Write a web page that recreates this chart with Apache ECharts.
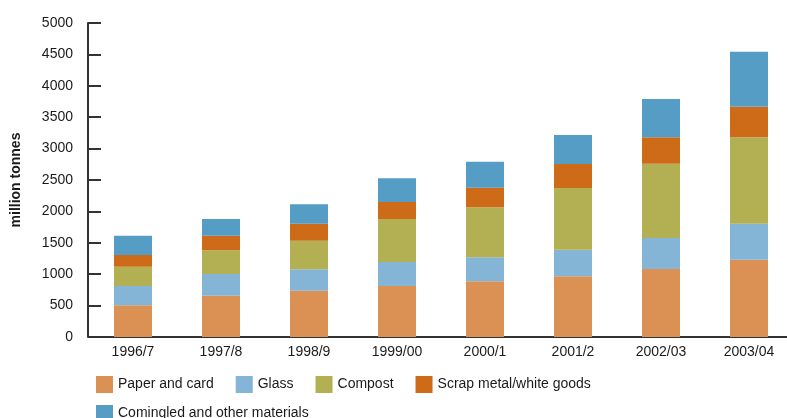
<!DOCTYPE html>
<html>
<head>
<meta charset="utf-8">
<script src="https://cdn.jsdelivr.net/npm/echarts@6/dist/echarts.min.js"></script>
<style>
  html, body { margin: 0; padding: 0; background: #fff; }
  #chart { width: 787px; height: 418px; }
</style>
</head>
<body>
<div id="chart"></div>
<script>
  // data (million tonnes)
  var years = ['1996/7', '1997/8', '1998/9', '1999/00', '2000/1', '2001/2', '2002/03', '2003/04']
  var paper = [505, 658, 737, 812, 887, 966, 1083, 1231]
  var glass = [307, 345, 341, 382, 382, 425, 493, 573]
  var compost = [308, 377, 456, 685, 796, 982, 1184, 1376]
  var scrap = [186, 233, 268, 271, 313, 382, 420, 487]
  var comingled = [307, 266, 311, 377, 414, 462, 610, 876]
  var yTicks = [0, 500, 1000, 1500, 2000, 2500, 3000, 3500, 4000, 4500, 5000]

  var font = "'Liberation Sans', sans-serif"
  var axisColor = '#333'
  var textColor = '#1a1a1a'

  function bar (name, data, color) {
    return {
      name: name,
      type: 'bar',
      stack: 'total',
      barWidth: 38,
      data: data,
      itemStyle: { color: color },
      emphasis: { disabled: true }
    }
  }

  var legendText = { fontFamily: font, fontSize: 14, color: textColor }

  var chart = echarts.init(document.getElementById('chart'))
  chart.setOption({
    animation: false,
    textStyle: { fontFamily: font },
    // the x axis runs off the right edge in the original
    grid: { left: 89, top: 23, width: 704, bottom: 81, outerBoundsMode: 'none' },
    legend: [
      {
        left: 96, top: 376, padding: 0, itemWidth: 17, itemHeight: 17, itemGap: 22,
        icon: 'rect',
        textStyle: legendText,
        data: ['Paper and card', 'Glass', 'Compost', 'Scrap metal/white goods']
      },
      {
        left: 96, top: 405, padding: 0, itemWidth: 17, itemHeight: 17,
        icon: 'rect',
        textStyle: legendText,
        data: ['Comingled and other materials']
      }
    ],
    xAxis: {
      type: 'category',
      data: years,
      axisLine: { lineStyle: { color: axisColor, width: 2 } },
      axisTick: { inside: true, length: 9, lineStyle: { color: axisColor, width: 2 } },
      axisLabel: { color: textColor, fontSize: 14, margin: 8, fontFamily: font }
    },
    yAxis: {
      type: 'value',
      min: yTicks[0],
      max: yTicks[yTicks.length - 1],
      interval: 500,
      offset: 1,
      name: 'million tonnes',
      nameLocation: 'middle',
      nameRotate: 90,
      nameGap: 65,
      nameTextStyle: { color: textColor, fontSize: 14, fontFamily: font, fontWeight: 'bold' },
      axisLine: { show: true, lineStyle: { color: axisColor, width: 2 } },
      axisTick: { show: true, inside: true, length: 13, lineStyle: { color: axisColor, width: 2 } },
      axisLabel: {
        color: textColor, fontSize: 14, margin: 15, fontFamily: font,
        formatter: function (v) { return String(v) }
      },
      splitLine: { show: false }
    },
    series: [
      bar('Paper and card', paper, '#dc9154'),
      bar('Glass', glass, '#84b4d6'),
      bar('Compost', compost, '#b2b052'),
      bar('Scrap metal/white goods', scrap, '#cd6b19'),
      bar('Comingled and other materials', comingled, '#569dc6')
    ]
  })
</script>
</body>
</html>
